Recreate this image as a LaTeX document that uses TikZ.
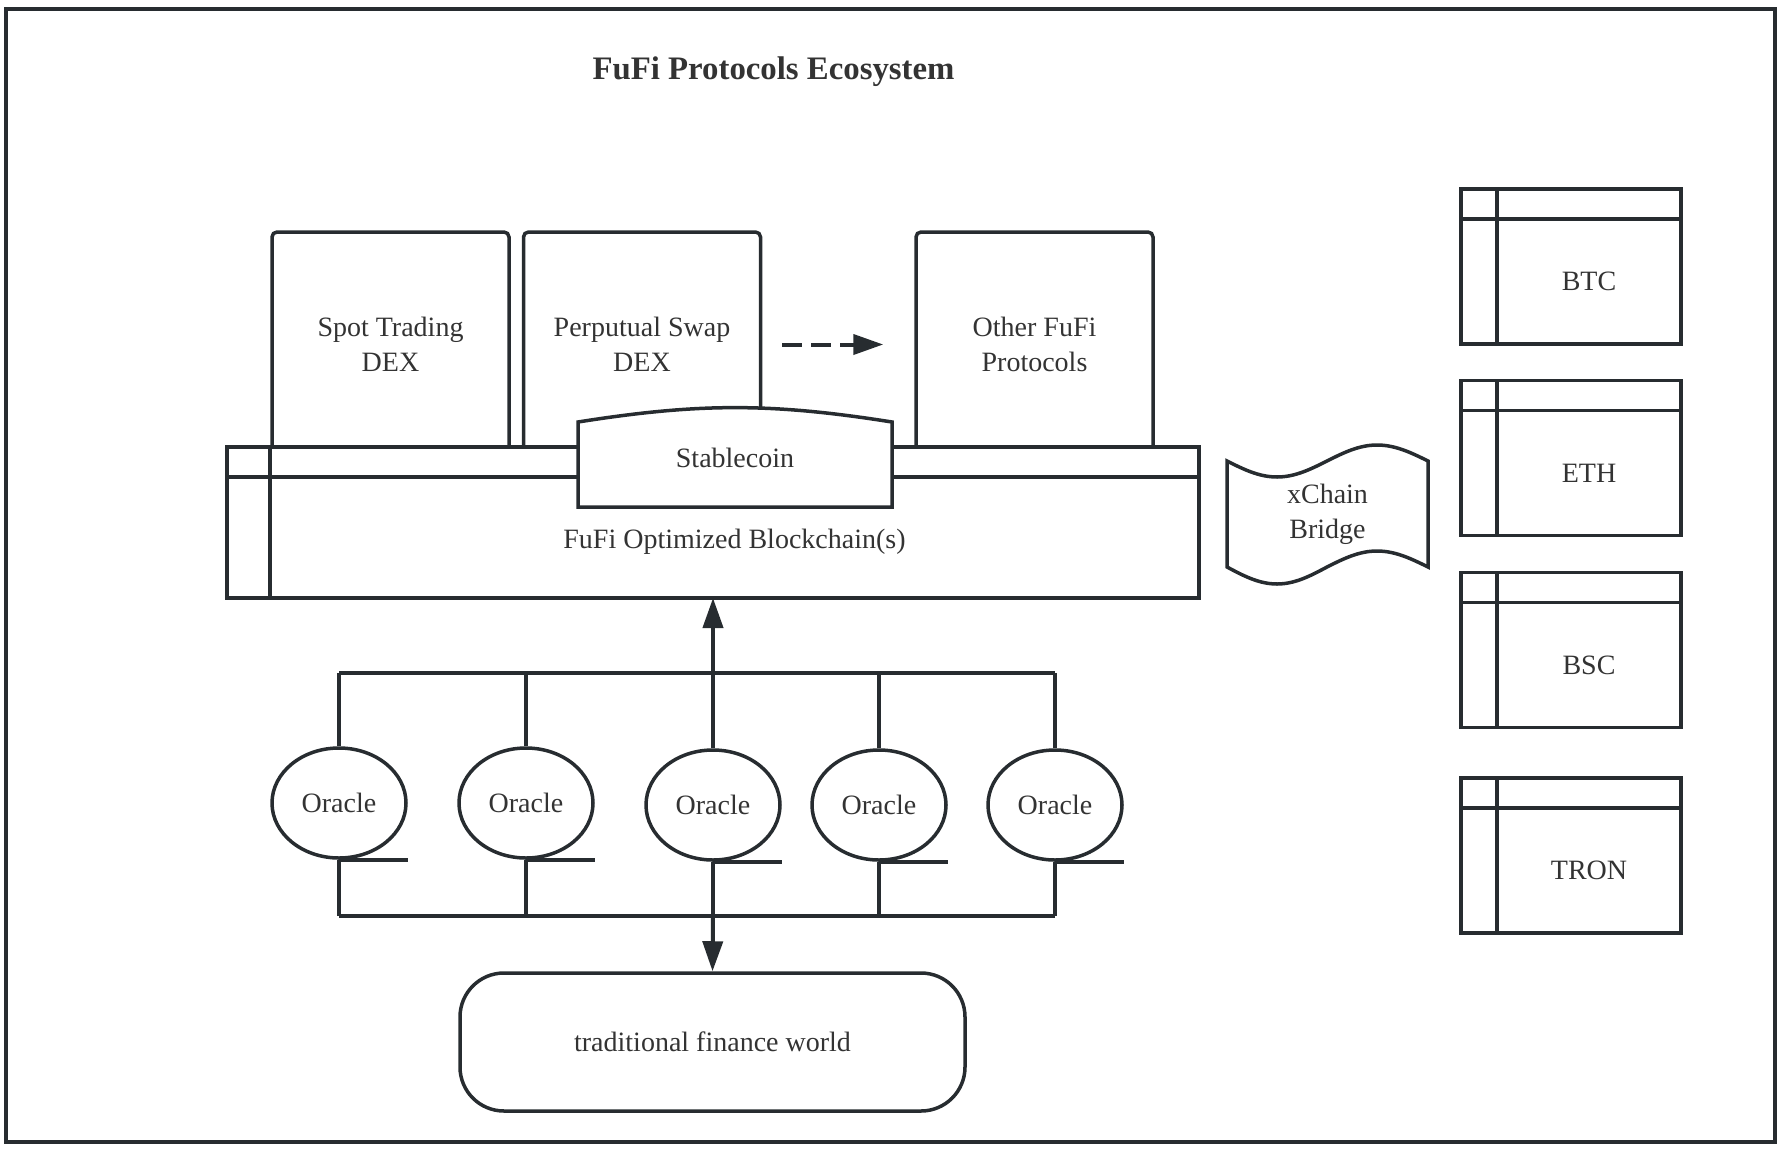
\documentclass[tikz,border=0pt]{standalone}
\usepackage{fontspec}
\setmainfont{Liberation Serif}
\usepackage{xcolor}
\usepackage{tikz}
\usetikzlibrary{arrows.meta,shapes.geometric}
\definecolor{ink}{HTML}{272C30}
\definecolor{txt}{HTML}{333333}

\begin{document}
\begin{tikzpicture}[x=1pt,y=-1pt]
\tikzstyle{every node} = [text=txt, font=\fontsize{28}{35}\selectfont]
\tikzstyle{boxline} = [draw=ink, line width=3.5pt]
\tikzstyle{dex} = [boxline, rounded corners=5pt, minimum width=237pt, minimum height=225pt, align=center, inner sep=0pt]
\tikzstyle{store} = [boxline, fill=white, inner sep=0pt, outer sep=0pt]
\tikzstyle{oracle} = [boxline, ellipse, minimum width=134pt, minimum height=110pt, inner sep=0pt]
\tikzstyle{wire} = [draw=ink, line width=3.2pt]
\tikzstyle{flow} = [draw=ink, line width=4pt, -{Triangle[length=30pt,width=20pt]}]
%
\useasboundingbox (0,0) rectangle (1782,1148);
\draw[boxline, line width=4pt] (6,9) rectangle (1775,1142);
\node[font=\fontsize{32.8}{40}\selectfont\bfseries] (title) at (773.5,72) {FuFi Protocols Ecosystem};

% protocols
\node[dex] (spot) at (390.5,344.5) {Spot Trading\\DEX};
\node[dex] (perp) at (642,344.5) {Perputual Swap\\DEX};
\node[dex] (other) at (1034.5,344.5) {Other FuFi\\Protocols};
\draw[flow, dash pattern=on 20pt off 9pt, shorten <=20pt, shorten >=31pt] (perp.east) -- (other.west);

% blockchain
\node[store, minimum width=972pt, minimum height=151pt] (chain) at (713,522.5) {};
\draw[boxline] ([yshift=-30pt]chain.north west) -- ([yshift=-30pt]chain.north east);
\draw[boxline] ([xshift=43pt]chain.north west) -- ([xshift=43pt]chain.south west);
\node (chaintxt) at ([xshift=21.5pt,yshift=-19pt]chain.center) {FuFi Optimized Blockchain(s)};

% stablecoin
\node[inner sep=0pt, outer sep=0pt, minimum width=314pt, minimum height=85pt] (stable) at (735,464.5) {};
\draw[boxline, fill=white] (stable.south west) -- (stable.north west) to[bend left=9] (stable.north east) -- (stable.south east) -- cycle;
\node (stabletxt) at ([yshift=6.5pt]stable.center) {Stablecoin};

% bridge
\node[align=center, inner sep=0pt, outer sep=0pt, minimum width=201pt, minimum height=106pt] (bridge) at (1327.5,514) {xChain\\Bridge};
\draw[boxline] (bridge.north west) sin ++(50,16) cos ++(50,-16) sin ++(50,-16) cos ++(51,16) -- (bridge.south east)
  sin ++(-51,-16) cos ++(-50,16) sin ++(-50,17) cos ++(-50,-17) -- cycle;

% chains
\foreach \nm/\y in {BTC/266.5, ETH/458, BSC/650, TRON/855.5} {
  \node[store, minimum width=220pt, minimum height=155pt] (\nm) at (1571,\y) {};
  \draw[boxline] ([yshift=-30pt]\nm.north west) -- ([yshift=-30pt]\nm.north east);
  \draw[boxline] ([xshift=36pt]\nm.north west) -- ([xshift=36pt]\nm.south west);
  \node (\nm-txt) at ([xshift=18pt,yshift=-15pt]\nm.center) {\nm};
}

% oracles
\coordinate (topbus) at (713,673);
\coordinate (botbus) at (713,916);
\foreach \i/\x/\y in {1/339/803, 2/526/803, 3/713/805, 4/879/805, 5/1055/805} {
  \node[oracle] (o\i) at (\x,\y) {Oracle};
  \draw[boxline, line width=4pt] (o\i.south) -- (o\i.south -| o\i.east);
  \draw[wire] (o\i.north) -- (o\i.north |- topbus);
  \draw[wire] (o\i.south) -- (o\i.south |- botbus);
}
\draw[wire] (o1.north |- topbus) -- (o5.north |- topbus);
\draw[wire] (o1.south |- botbus) -- (o5.south |- botbus);

\node[boxline, rounded corners=44pt, minimum width=505pt, minimum height=138pt] (tfw) at (712.5,1042) {traditional finance world};
\draw[flow] (topbus) -- (chain.south);
\draw[flow] (botbus) -- (tfw.north);
\end{tikzpicture}
\end{document}
